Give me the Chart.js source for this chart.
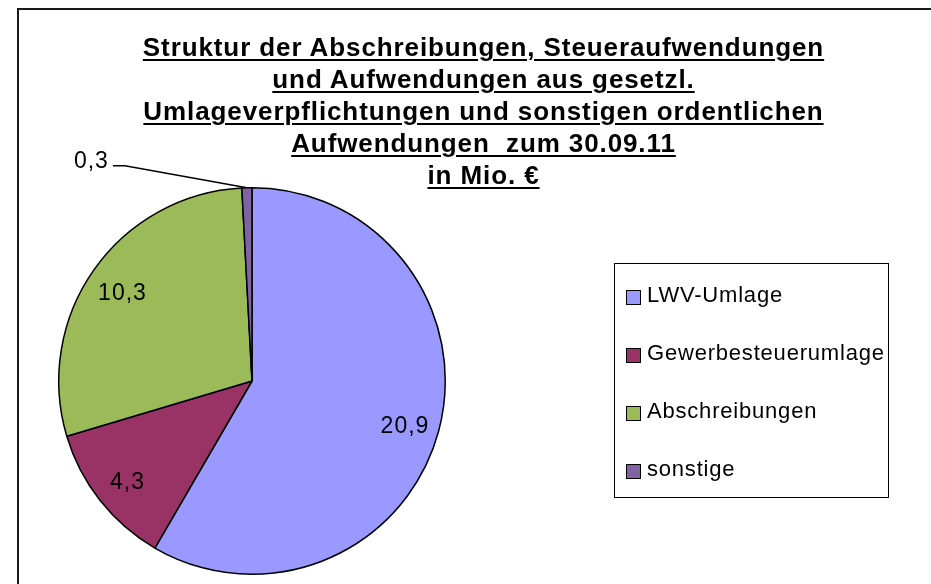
<!DOCTYPE html>
<html>
<head>
<meta charset="utf-8">
<script src="https://cdn.jsdelivr.net/npm/chart.js@4/dist/chart.umd.min.js"></script>
<style>
    body { margin: 0; background: #fff; }
    #wrap { position: relative; width: 931px; height: 584px; overflow: hidden; background: #fff; }
    #frame { position: absolute; left: 17px; top: 8px; width: 1000px; height: 700px;
             border-left: 2px solid #1a1a1a; border-top: 2px solid #1a1a1a; }
    #chart { position: absolute; left: 0; top: 0; }
    #title { position: absolute; left: 0; width: 967px; top: 31px; text-align: center;
             font: bold 26px "Liberation Sans", Arial, sans-serif;
             letter-spacing: 0.9px; line-height: 32px; color: #000; }
    #title div { white-space: pre; }
    #title span { text-decoration: underline; text-decoration-thickness: 2px; text-underline-offset: 3px; }
    #legend { position: absolute; left: 614px; top: 263px; width: 273px; height: 233px;
              border: 1.5px solid #000; }
    .item { position: absolute; left: 11px; height: 24px; white-space: nowrap;
            font: 22px "Liberation Sans", Arial, sans-serif; letter-spacing: 0.8px; color: #000; }
    .box { position: absolute; left: 0; top: 3px; width: 13px; height: 13px; border: 1.5px solid #000; }
    .txt { position: absolute; left: 21px; top: -5px; }
</style>
</head>
<body>
<div id="wrap">
    <div id="frame"></div>
    <canvas id="chart" width="931" height="584"></canvas>
    <div id="title"></div>
    <div id="legend"></div>
</div>
<script>
const titelZeilen = [
    "Struktur der Abschreibungen, Steueraufwendungen",
    "und Aufwendungen aus gesetzl.",
    "Umlageverpflichtungen und sonstigen ordentlichen",
    "Aufwendungen  zum 30.09.11",
    "in Mio. €"
];
const kategorien = ["LWV-Umlage", "Gewerbesteuerumlage", "Abschreibungen", "sonstige"];
const werte = [20.9, 4.3, 10.3, 0.3];
const farben = ["#9999FF", "#993366", "#9BBB59", "#8064A2"];

// Titel
const titel = document.getElementById("title");
titelZeilen.forEach(z => {
    const d = document.createElement("div");
    const s = document.createElement("span");
    s.textContent = z;
    d.appendChild(s);
    titel.appendChild(d);
});

// Legende
const legende = document.getElementById("legend");
kategorien.forEach((k, i) => {
    const it = document.createElement("div");
    it.className = "item";
    it.style.top = (23 + i * 58) + "px";
    it.innerHTML = `<div class="box" style="background:${farben[i]}"></div><div class="txt">${k}</div>`;
    legende.appendChild(it);
});

const summe = werte.reduce((a, b) => a + b, 0);
const fmt = v => v.toFixed(1).replace(".", ",");

// Beschriftung der Segmente
const beschriftung = {
    id: "beschriftung",
    afterDatasetsDraw(chart) {
        const ctx = chart.ctx;
        const meta = chart.getDatasetMeta(0);
        ctx.save();
        ctx.font = '23px "Liberation Sans", Arial, sans-serif';
        ctx.letterSpacing = "1px";
        ctx.fillStyle = "#000";
        meta.data.forEach((arc, i) => {
            const p = arc.getProps(["x", "y", "startAngle", "endAngle", "outerRadius"], true);
            const mid = (p.startAngle + p.endAngle) / 2;
            const txt = fmt(werte[i]);
            if (werte[i] / summe < 0.03) {
                // kleiner Anteil: Führungslinie nach links oben
                const ex = p.x + Math.cos(mid) * p.outerRadius;
                const ey = p.y + Math.sin(mid) * p.outerRadius;
                ctx.strokeStyle = "#000";
                ctx.lineWidth = 1.5;
                ctx.beginPath();
                ctx.moveTo(ex, ey);
                ctx.lineTo(ex - 122, ey - 22);
                ctx.lineTo(ex - 134, ey - 22);
                ctx.stroke();
                ctx.textAlign = "right";
                ctx.textBaseline = "alphabetic";
                ctx.fillText(txt, ex - 138, ey - 20);
            } else {
                const r = p.outerRadius * 0.82;
                ctx.textAlign = "center";
                ctx.textBaseline = "middle";
                ctx.fillText(txt, p.x + Math.cos(mid) * r, p.y + Math.sin(mid) * r + 4);
            }
        });
        ctx.restore();
    }
};

new Chart(document.getElementById("chart"), {
    type: "pie",
    data: {
        labels: kategorien,
        datasets: [{
            data: werte,
            backgroundColor: farben,
            borderColor: "#000",
            borderWidth: 1.5
        }]
    },
    options: {
        responsive: false,
        animation: false,
        layout: { padding: { left: 58, top: 187, right: 485, bottom: 9 } },
        plugins: {
            legend: { display: false },
            tooltip: { enabled: false }
        }
    },
    plugins: [beschriftung]
});
</script>
</body>
</html>
